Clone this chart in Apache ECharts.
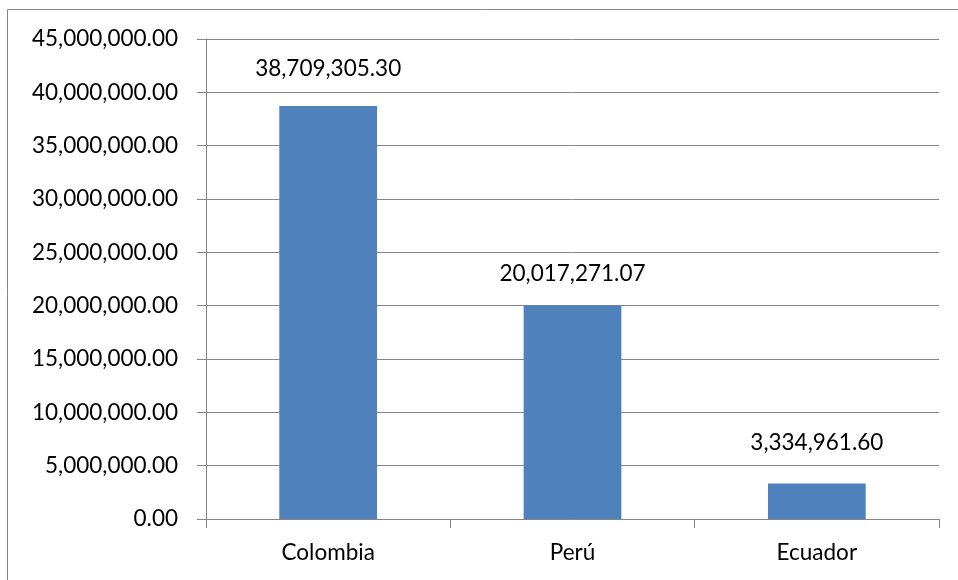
<!DOCTYPE html>
<html>
<head>
<meta charset="utf-8">
<script src="https://cdn.jsdelivr.net/npm/echarts@6/dist/echarts.min.js"></script>
<style>
  html, body { margin: 0; padding: 0; background: #ffffff; }
  #chart { width: 958px; height: 580px; }
</style>
</head>
<body>
<div id="chart"></div>
<script>
// Countries and their totals
const countries = ['Colombia', 'Perú', 'Ecuador'];
const totals = [38709305.30, 20017271.07, 3334961.60];

// Y axis range
const yMin = 0;
const yMax = 45000000;
const yStep = 5000000;

// Gap between each bar top and its value label
const labelGaps = [26, 20, 29];

const FONT = 'Lato';
const FONT_SIZE = 22.5;
const GRAY = '#868686';

function fmt(v) {
  return v.toLocaleString('en-US', { minimumFractionDigits: 2, maximumFractionDigits: 2 });
}

const chart = echarts.init(document.getElementById('chart'), null, { renderer: 'canvas' });

chart.setOption({
  animation: false,
  textStyle: { fontFamily: FONT },
  graphic: [{
    type: 'rect',
    shape: { x: 7.5, y: 9.5, width: 1000, height: 1000 },
    style: { fill: 'none', stroke: GRAY, lineWidth: 1 },
    silent: true
  }],
  grid: { left: 206, right: 19, top: 39, bottom: 61, containLabel: false },
  xAxis: {
    type: 'category',
    data: countries,
    axisLine: { show: true, lineStyle: { color: GRAY, width: 1 } },
    axisTick: { show: true, length: 9, alignWithLabel: false, lineStyle: { color: GRAY } },
    axisLabel: { color: '#000', fontSize: FONT_SIZE, fontFamily: FONT, margin: 22 },
    splitLine: { show: false }
  },
  yAxis: {
    type: 'value',
    min: yMin,
    max: yMax,
    interval: yStep,
    axisLine: { show: true, lineStyle: { color: GRAY, width: 1 } },
    axisTick: { show: true, length: 9, lineStyle: { color: GRAY } },
    axisLabel: { color: '#000', fontSize: FONT_SIZE, fontFamily: FONT, margin: 28, formatter: v => fmt(v) },
    splitLine: { show: true, lineStyle: { color: GRAY, width: 1 } }
  },
  series: [{
    type: 'bar',
    barCategoryGap: '60%',
    itemStyle: { color: '#4F81BD' },
    data: totals.map((v, i) => ({
      value: v,
      label: { distance: labelGaps[i] }
    })),
    label: {
      show: true,
      position: 'top',
      color: '#000',
      fontSize: FONT_SIZE,
      fontFamily: FONT,
      formatter: p => fmt(p.value)
    }
  }]
});
</script>
</body>
</html>
